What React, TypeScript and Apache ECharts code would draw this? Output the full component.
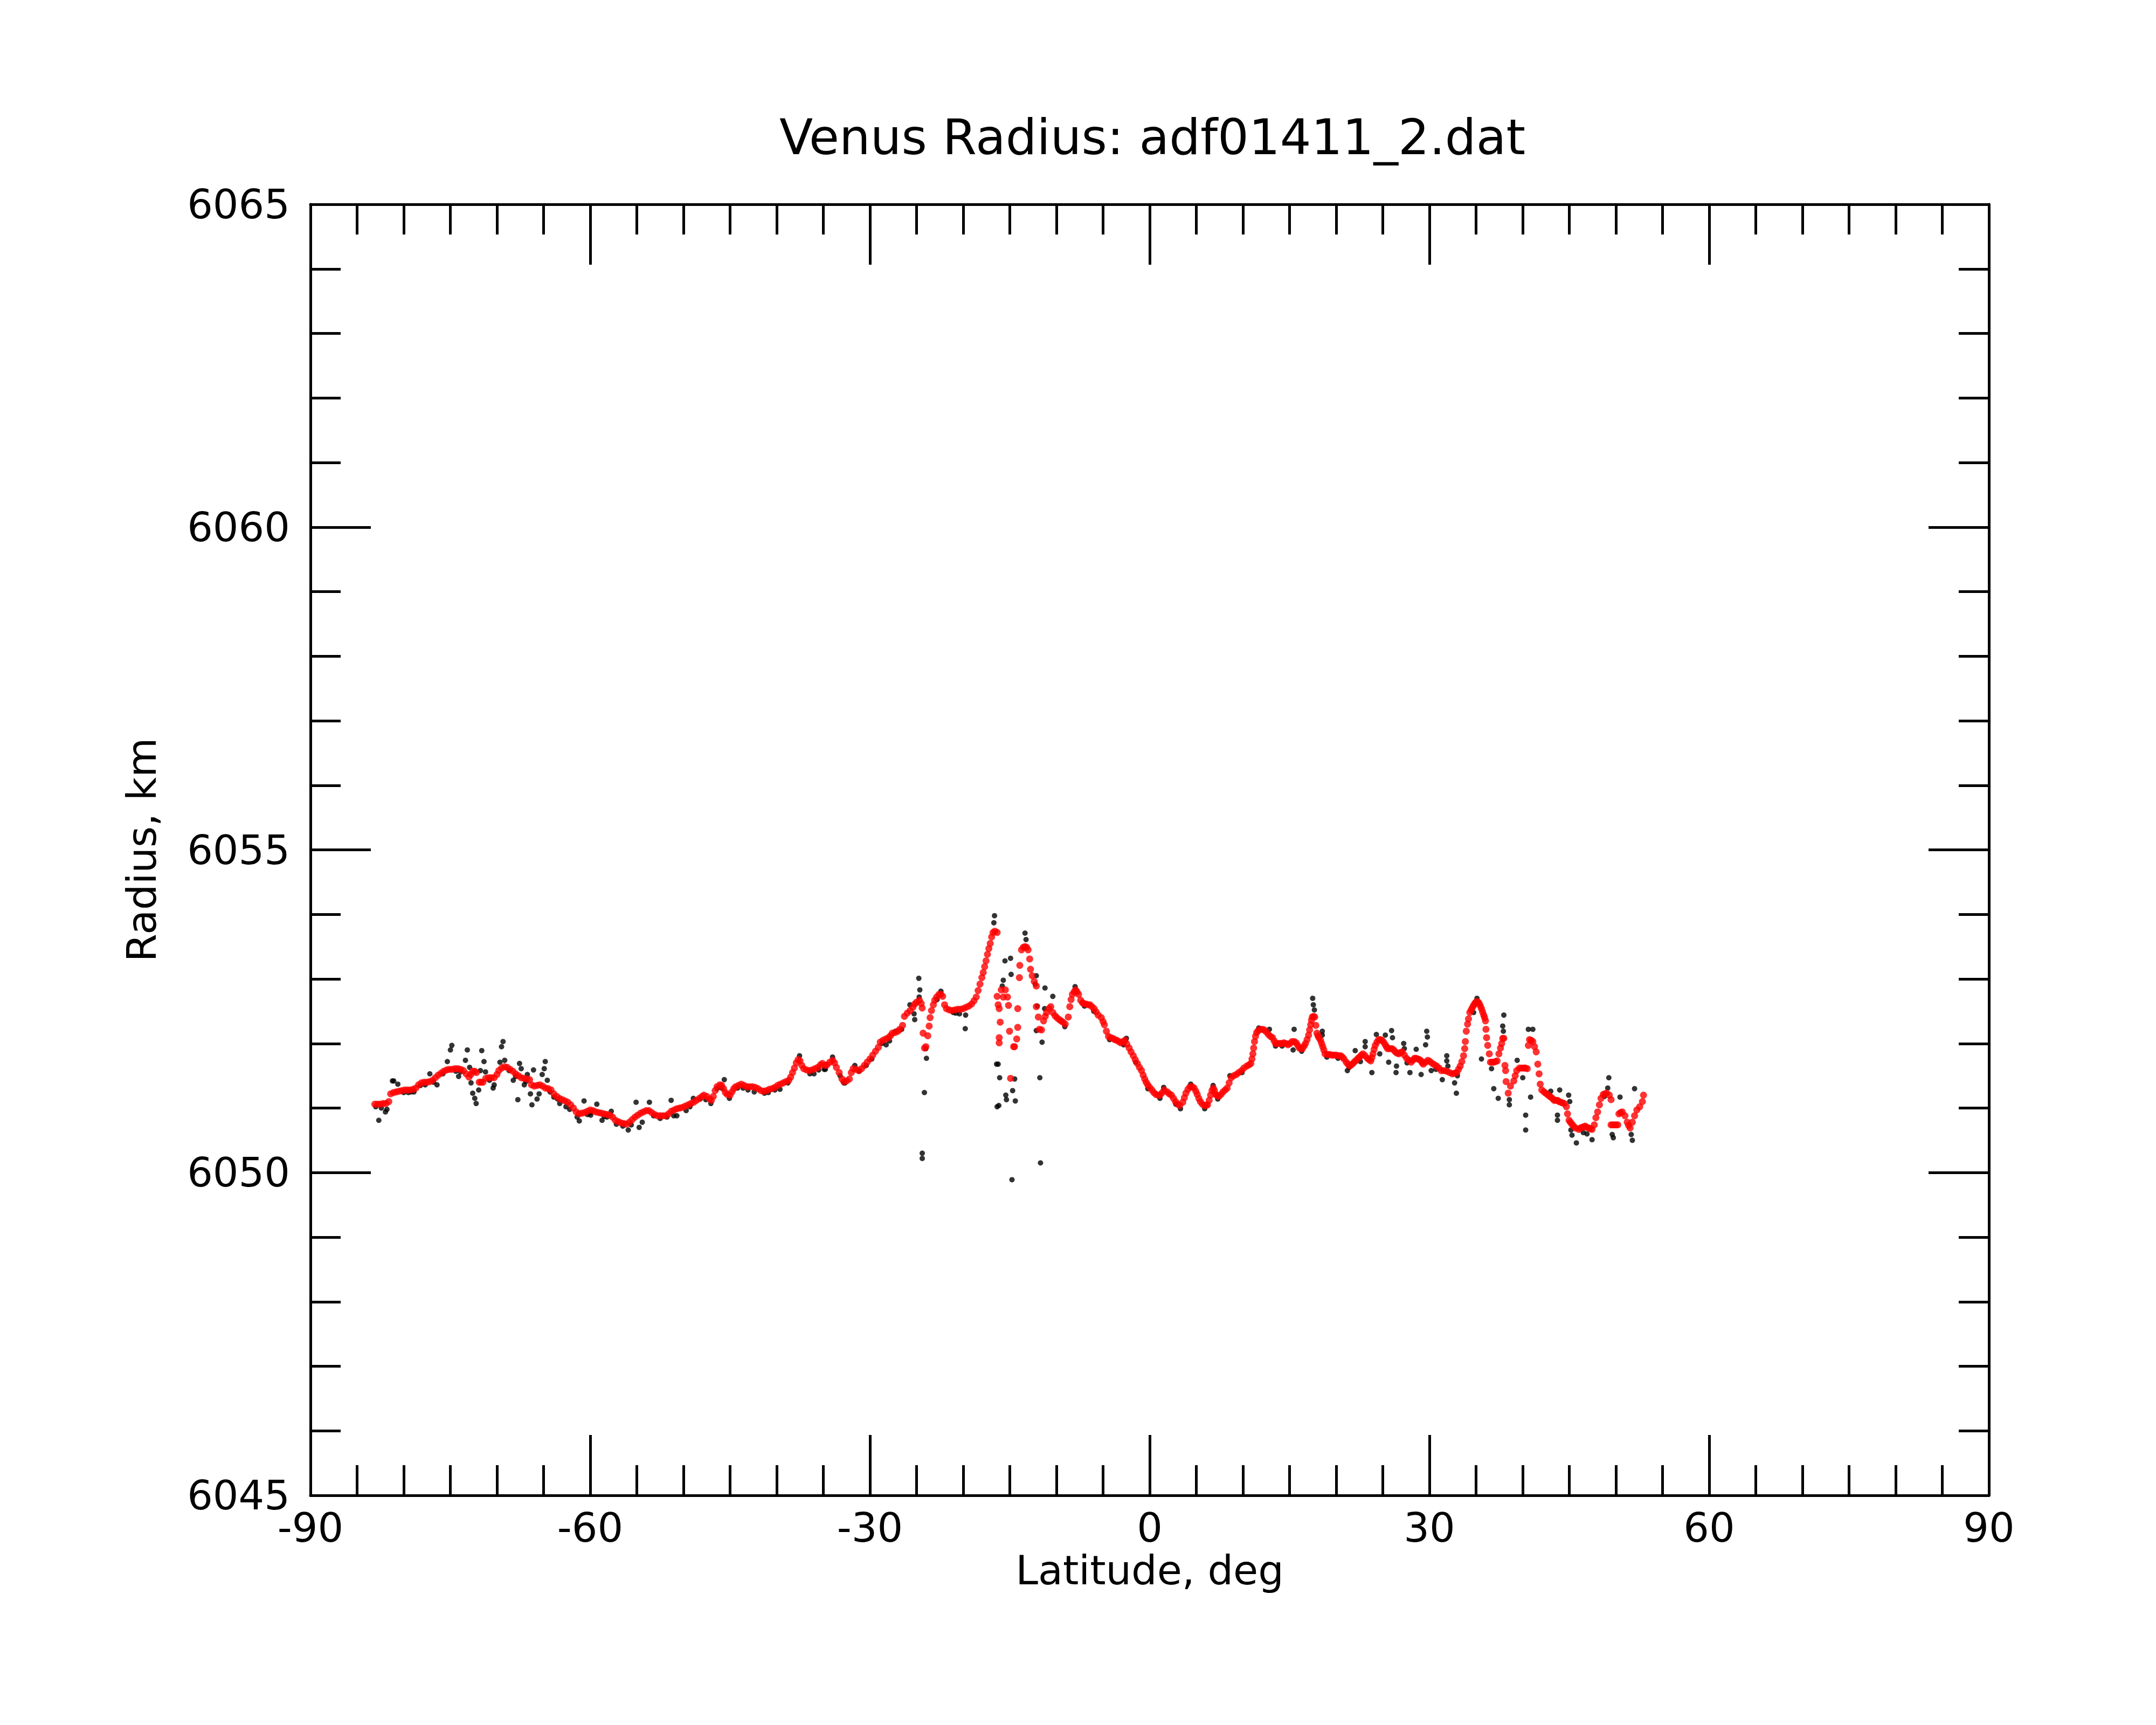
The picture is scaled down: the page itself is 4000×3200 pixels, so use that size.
import React, { useEffect, useRef } from "react";
import * as echarts from "echarts";

const TITLE = "Venus Radius: adf01411_2.dat";
const X_NAME = "Latitude, deg";
const Y_NAME = "Radius, km";
const X_MIN = -90;
const X_MAX = 90;
const X_STEP = 30;
const Y_MIN = 6045;
const Y_MAX = 6065;
const Y_STEP = 5;

// Smoothed radius (red), [latitude, radius]
const redSouth = [
  [-83.1, 6051.06], [-82.8, 6051.06], [-82.5, 6051.06], [-82.2, 6051.07], [-81.9, 6051.07], [-81.6, 6051.1],
  [-81.4, 6051.22], [-81.1, 6051.24], [-80.8, 6051.25], [-80.5, 6051.26], [-80.2, 6051.27], [-79.9, 6051.28],
  [-79.6, 6051.28], [-79.3, 6051.28], [-79.0, 6051.29], [-78.7, 6051.31], [-78.4, 6051.36], [-78.1, 6051.39],
  [-77.8, 6051.4], [-77.5, 6051.4], [-77.2, 6051.41], [-76.9, 6051.43], [-76.6, 6051.47], [-76.3, 6051.51],
  [-76.0, 6051.54], [-75.7, 6051.57], [-75.4, 6051.59], [-75.1, 6051.6], [-74.8, 6051.6], [-74.5, 6051.61],
  [-74.2, 6051.61], [-73.9, 6051.6], [-73.6, 6051.58], [-73.3, 6051.53], [-73.0, 6051.48], [-72.8, 6051.52],
  [-72.6, 6051.57], [-72.4, 6051.57], [-72.2, 6051.55], [-71.9, 6051.4], [-71.7, 6051.4], [-71.5, 6051.4],
  [-71.2, 6051.46], [-70.9, 6051.47], [-70.6, 6051.47], [-70.3, 6051.47], [-70.0, 6051.52], [-69.8, 6051.58],
  [-69.5, 6051.62], [-69.2, 6051.64], [-68.9, 6051.63], [-68.6, 6051.6], [-68.3, 6051.57], [-68.0, 6051.53],
  [-67.7, 6051.5], [-67.4, 6051.47], [-67.1, 6051.46], [-66.8, 6051.45], [-66.5, 6051.44], [-66.3, 6051.36],
  [-66.0, 6051.34], [-65.7, 6051.35], [-65.4, 6051.36], [-65.1, 6051.34], [-64.8, 6051.31], [-64.5, 6051.3],
  [-64.2, 6051.28], [-63.9, 6051.22], [-63.6, 6051.18], [-63.3, 6051.15], [-63.0, 6051.13], [-62.7, 6051.11],
  [-62.4, 6051.09], [-62.1, 6051.05], [-61.8, 6051.0], [-61.5, 6050.94], [-61.2, 6050.91], [-60.9, 6050.92],
  [-60.6, 6050.93], [-60.3, 6050.95], [-60.0, 6050.97], [-59.7, 6050.96], [-59.4, 6050.94], [-59.1, 6050.93],
  [-58.8, 6050.92], [-58.5, 6050.91], [-58.2, 6050.9], [-57.9, 6050.89], [-57.6, 6050.86], [-57.3, 6050.81],
  [-57.0, 6050.79], [-56.7, 6050.77], [-56.4, 6050.76], [-56.1, 6050.75], [-55.8, 6050.78], [-55.5, 6050.82],
  [-55.2, 6050.86], [-54.9, 6050.89], [-54.6, 6050.92], [-54.3, 6050.94], [-54.0, 6050.96], [-53.7, 6050.96],
  [-53.4, 6050.93], [-53.1, 6050.9], [-52.8, 6050.88], [-52.5, 6050.88], [-52.2, 6050.88], [-51.9, 6050.88],
  [-51.6, 6050.91], [-51.3, 6050.95], [-51.0, 6050.97],
];

const redMid = [
  [-50.7, 6050.99], [-50.4, 6051.0], [-50.1, 6051.01], [-49.8, 6051.03], [-49.5, 6051.05], [-49.2, 6051.07],
  [-48.9, 6051.09], [-48.6, 6051.12], [-48.3, 6051.15], [-48.0, 6051.18], [-47.8, 6051.2], [-47.5, 6051.18],
  [-47.2, 6051.14], [-47.0, 6051.12], [-46.8, 6051.18], [-46.6, 6051.27], [-46.4, 6051.33], [-46.1, 6051.36],
  [-45.9, 6051.35], [-45.7, 6051.3], [-45.5, 6051.24], [-45.3, 6051.21], [-45.0, 6051.2], [-44.8, 6051.25],
  [-44.6, 6051.3], [-44.4, 6051.33], [-44.1, 6051.35], [-43.8, 6051.37], [-43.5, 6051.35], [-43.2, 6051.33],
  [-42.9, 6051.33], [-42.6, 6051.33], [-42.3, 6051.32], [-42.0, 6051.3], [-41.7, 6051.27], [-41.4, 6051.26],
  [-41.1, 6051.27], [-40.8, 6051.29], [-40.5, 6051.3], [-40.2, 6051.32], [-39.9, 6051.35], [-39.6, 6051.37],
  [-39.3, 6051.39], [-39.0, 6051.41], [-38.7, 6051.43], [-38.5, 6051.48], [-38.3, 6051.55], [-38.1, 6051.62],
  [-37.9, 6051.7], [-37.7, 6051.75], [-37.5, 6051.73], [-37.3, 6051.66], [-37.1, 6051.61], [-36.8, 6051.59],
  [-36.5, 6051.58], [-36.2, 6051.59], [-35.9, 6051.61], [-35.6, 6051.63], [-35.3, 6051.67], [-35.1, 6051.69],
  [-34.8, 6051.66], [-34.6, 6051.67], [-34.3, 6051.71], [-34.0, 6051.74], [-33.8, 6051.7], [-33.6, 6051.63],
  [-33.3, 6051.55], [-33.0, 6051.45], [-32.8, 6051.41], [-32.5, 6051.42], [-32.2, 6051.45], [-32.0, 6051.55],
  [-31.8, 6051.61], [-31.5, 6051.6], [-31.2, 6051.58], [-30.9, 6051.61], [-30.6, 6051.66], [-30.3, 6051.71],
  [-30.0, 6051.76], [-29.7, 6051.82], [-29.4, 6051.88], [-29.1, 6051.94], [-28.9, 6052.02], [-28.6, 6052.05],
  [-28.3, 6052.07], [-28.0, 6052.09], [-27.8, 6052.12], [-27.6, 6052.16], [-27.3, 6052.17], [-27.0, 6052.19],
  [-26.8, 6052.22], [-26.5, 6052.28], [-26.3, 6052.42], [-26.0, 6052.47], [-25.7, 6052.51], [-25.4, 6052.56],
  [-25.2, 6052.61], [-25.0, 6052.64], [-24.7, 6052.67], [-24.5, 6052.62], [-24.4, 6052.55], [-24.3, 6052.16],
  [-24.15, 6051.93], [-24.0, 6051.95], [-23.8, 6052.12], [-23.65, 6052.27], [-23.55, 6052.4], [-23.4, 6052.51],
  [-23.2, 6052.6], [-23.05, 6052.67], [-22.85, 6052.72], [-22.6, 6052.76], [-22.4, 6052.76], [-22.2, 6052.73],
  [-22.0, 6052.6], [-21.8, 6052.54], [-21.5, 6052.52], [-21.2, 6052.51], [-20.9, 6052.52], [-20.6, 6052.53],
  [-20.3, 6052.53], [-20.0, 6052.54], [-19.7, 6052.56], [-19.4, 6052.58], [-19.1, 6052.61], [-18.85, 6052.66],
  [-18.6, 6052.72], [-18.4, 6052.82], [-18.2, 6052.92], [-18.0, 6053.02], [-17.85, 6053.1], [-17.7, 6053.19],
  [-17.55, 6053.28], [-17.4, 6053.38], [-17.25, 6053.47], [-17.1, 6053.55], [-16.95, 6053.65], [-16.8, 6053.72],
  [-16.6, 6053.74],
];

const redEquator = [
  [-16.36, 6053.72], [-16.36, 6052.73], [-16.25, 6052.6], [-16.14, 6052.54], [-16.03, 6052.33], [-16.14, 6052.09],
  [-16.14, 6052.01], [-15.92, 6052.83], [-15.48, 6052.83], [-15.7, 6052.72], [-15.25, 6052.72], [-15.14, 6052.59],
  [-15.03, 6052.19], [-14.92, 6051.46], [-14.59, 6051.95], [-14.5, 6051.95], [-14.26, 6052.07], [-14.15, 6052.25],
  [-14.15, 6052.54], [-13.97, 6053.02], [-13.93, 6053.21], [-13.75, 6053.45], [-13.55, 6053.49], [-13.37, 6053.5],
  [-13.2, 6053.49], [-13.04, 6053.45], [-12.87, 6053.31], [-12.78, 6053.15], [-12.6, 6053.05], [-12.38, 6052.96],
  [-12.16, 6052.89], [-12.16, 6052.57], [-11.94, 6052.41], [-11.83, 6052.22], [-11.6, 6052.21], [-11.38, 6052.35],
  [-11.2, 6052.42], [-11.05, 6052.48], [-10.8, 6052.54], [-10.61, 6052.57], [-10.39, 6052.48], [-10.15, 6052.43],
  [-9.95, 6052.4], [-9.7, 6052.37], [-9.5, 6052.35], [-9.3, 6052.33], [-9.06, 6052.3], [-8.73, 6052.41],
  [-8.57, 6052.57], [-8.43, 6052.68], [-8.29, 6052.76], [-8.1, 6052.8], [-7.95, 6052.83], [-7.8, 6052.8],
  [-7.62, 6052.76], [-7.4, 6052.67], [-7.2, 6052.63], [-7.07, 6052.62], [-6.8, 6052.61], [-6.6, 6052.6],
  [-6.41, 6052.6], [-6.2, 6052.57], [-5.96, 6052.54], [-5.75, 6052.49], [-5.52, 6052.44], [-5.19, 6052.4],
  [-5.0, 6052.34], [-4.86, 6052.29], [-4.64, 6052.19], [-4.42, 6052.11], [-4.2, 6052.09], [-3.97, 6052.08],
  [-3.75, 6052.06], [-3.53, 6052.05], [-3.3, 6052.03], [-3.09, 6052.01], [-2.85, 6052.03], [-2.65, 6052.05],
  [-2.45, 6051.99], [-2.2, 6051.93], [-2.0, 6051.87], [-1.76, 6051.81], [-1.55, 6051.75], [-1.32, 6051.69],
  [-1.1, 6051.63], [-0.88, 6051.58], [-0.7, 6051.51], [-0.54, 6051.45], [-0.38, 6051.4], [-0.21, 6051.36],
  [0.0, 6051.32], [0.23, 6051.28], [0.45, 6051.24], [0.67, 6051.21], [0.9, 6051.2], [1.11, 6051.2],
  [1.35, 6051.24], [1.56, 6051.28], [1.89, 6051.25], [2.1, 6051.22], [2.33, 6051.2], [2.55, 6051.15],
  [2.77, 6051.1], [3.0, 6051.06], [3.22, 6051.04], [3.55, 6051.09], [3.72, 6051.16], [3.88, 6051.23],
  [4.1, 6051.29], [4.32, 6051.33], [4.55, 6051.33], [4.76, 6051.31], [4.95, 6051.26], [5.1, 6051.21],
  [5.27, 6051.15], [5.43, 6051.1], [5.65, 6051.06], [5.87, 6051.04], [6.05, 6051.04], [6.2, 6051.05],
  [6.38, 6051.12], [6.53, 6051.2], [6.68, 6051.27], [6.82, 6051.31], [6.95, 6051.27], [7.09, 6051.21],
  [7.25, 6051.19], [7.42, 6051.18], [7.65, 6051.21], [7.86, 6051.25], [8.1, 6051.28], [8.31, 6051.31],
  [8.52, 6051.39], [8.75, 6051.47], [9.0, 6051.5], [9.3, 6051.52], [9.55, 6051.55], [9.85, 6051.58],
  [10.1, 6051.62], [10.41, 6051.65], [10.65, 6051.67], [10.85, 6051.69], [10.97, 6051.76], [11.07, 6051.84],
  [11.15, 6051.93], [11.24, 6052.03], [11.35, 6052.11], [11.47, 6052.17], [11.65, 6052.2], [11.84, 6052.22],
  [12.05, 6052.22], [12.29, 6052.21], [12.5, 6052.18], [12.73, 6052.14], [12.95, 6052.11], [13.17, 6052.09],
  [13.35, 6052.04], [13.5, 6052.0], [13.72, 6052.0], [13.95, 6052.0], [14.17, 6052.0], [14.39, 6052.01],
  [14.6, 6052.0], [14.83, 6051.98], [15.05, 6052.0], [15.27, 6052.03], [15.5, 6052.03], [15.71, 6052.01],
  [15.88, 6051.97], [16.05, 6051.93], [16.2, 6051.92], [16.38, 6051.92], [16.55, 6051.96], [16.71, 6052.0],
  [16.88, 6052.06], [17.04, 6052.13], [17.15, 6052.21], [17.26, 6052.29], [17.35, 6052.36], [17.44, 6052.41],
  [17.57, 6052.42], [17.7, 6052.41], [17.82, 6052.28], [17.93, 6052.16], [18.05, 6052.12], [18.15, 6052.09],
];

const redNorth = [
  [18.32, 6052.05], [18.44, 6052.0], [18.56, 6051.95], [18.68, 6051.9], [18.8, 6051.84], [19.05, 6051.83],
  [19.3, 6051.83], [19.52, 6051.82], [19.75, 6051.82], [20.0, 6051.82], [20.25, 6051.81], [20.48, 6051.81],
  [20.66, 6051.79], [20.84, 6051.76], [21.08, 6051.71], [21.26, 6051.68], [21.44, 6051.65], [21.62, 6051.67],
  [21.8, 6051.69], [21.98, 6051.72], [22.16, 6051.74], [22.34, 6051.77], [22.51, 6051.79], [22.7, 6051.82],
  [22.87, 6051.84], [23.1, 6051.81], [23.35, 6051.77], [23.53, 6051.75], [23.71, 6051.73], [23.83, 6051.78],
  [23.95, 6051.84], [24.07, 6051.91], [24.19, 6051.97], [24.37, 6052.02], [24.55, 6052.06], [24.73, 6052.06],
  [24.91, 6052.05], [25.09, 6052.02], [25.27, 6051.98], [25.39, 6051.95], [25.51, 6051.92], [25.75, 6051.92],
  [25.99, 6051.92], [26.17, 6051.9], [26.35, 6051.87], [26.53, 6051.85], [26.71, 6051.84], [26.89, 6051.86],
  [27.07, 6051.87], [27.31, 6051.82], [27.55, 6051.77], [27.79, 6051.74], [28.03, 6051.71], [28.21, 6051.74],
  [28.39, 6051.77], [28.57, 6051.77], [28.75, 6051.76], [28.93, 6051.75], [29.11, 6051.73], [29.23, 6051.7],
  [29.35, 6051.68], [29.59, 6051.71], [29.83, 6051.74], [30.07, 6051.72], [30.31, 6051.69], [30.55, 6051.67],
  [30.78, 6051.65], [31.02, 6051.62], [31.26, 6051.58], [31.56, 6051.58], [31.86, 6051.57], [32.16, 6051.55],
  [32.46, 6051.53], [32.7, 6051.54], [32.94, 6051.55], [33.12, 6051.6], [33.3, 6051.65], [33.48, 6051.72],
  [33.66, 6051.81], [33.78, 6051.92], [33.85, 6052.03], [33.95, 6052.19], [34.09, 6052.3], [34.19, 6052.38],
  [34.33, 6052.48], [34.47, 6052.52], [34.62, 6052.56], [34.74, 6052.59], [34.86, 6052.62], [34.98, 6052.64],
  [35.1, 6052.65], [35.22, 6052.64], [35.34, 6052.62], [35.46, 6052.58], [35.58, 6052.54], [35.7, 6052.49],
  [35.82, 6052.44], [35.92, 6052.4], [36.01, 6052.35], [36.06, 6052.22], [36.13, 6052.09], [36.25, 6051.97],
  [36.42, 6051.84], [36.54, 6051.71], [36.72, 6051.71], [36.9, 6051.71], [37.08, 6051.72], [37.26, 6051.73],
  [37.45, 6051.84], [37.62, 6051.93], [37.75, 6052.0], [37.86, 6052.08], [37.98, 6052.08], [38.1, 6051.66],
  [38.17, 6051.58], [38.22, 6051.41], [38.45, 6051.23], [38.69, 6051.34], [39.05, 6051.42], [39.2, 6051.5],
  [39.36, 6051.58], [39.65, 6051.62], [39.9, 6051.62], [40.13, 6051.62], [40.3, 6051.62], [40.49, 6051.61],
  [40.61, 6051.97], [40.73, 6052.06], [40.91, 6052.05], [41.09, 6052.03], [41.27, 6051.95], [41.45, 6051.87],
  [41.62, 6051.68], [41.76, 6051.53], [41.88, 6051.37], [42.05, 6051.28], [42.29, 6051.25], [42.47, 6051.23],
  [42.65, 6051.21], [42.83, 6051.19], [43.01, 6051.17], [43.19, 6051.15], [43.37, 6051.12], [43.55, 6051.12],
  [43.73, 6051.12], [43.91, 6051.1], [44.09, 6051.09], [44.27, 6051.08], [44.45, 6051.07], [44.69, 6051.02],
  [44.81, 6050.91], [44.97, 6050.81], [45.12, 6050.78], [45.28, 6050.75], [45.46, 6050.72], [45.65, 6050.69],
  [46.01, 6050.67], [46.18, 6050.69], [46.36, 6050.7], [46.54, 6050.71], [46.72, 6050.72], [46.9, 6050.7],
  [47.08, 6050.69], [47.26, 6050.68], [47.44, 6050.67], [47.68, 6050.74], [47.85, 6050.85], [48.04, 6050.94],
  [48.23, 6051.05], [48.4, 6051.15], [48.64, 6051.21], [48.82, 6051.22], [49.0, 6051.23], [49.29, 6051.2],
  [49.48, 6051.13], [49.48, 6050.74], [49.66, 6050.74], [49.84, 6050.74], [50.02, 6050.74], [50.2, 6050.74],
  [50.32, 6050.91], [50.5, 6050.93], [50.68, 6050.94], [50.97, 6050.88], [51.21, 6050.78], [51.36, 6050.73],
  [51.52, 6050.69], [51.76, 6050.78], [52.0, 6050.88], [52.24, 6050.97], [52.55, 6051.02], [52.84, 6051.1],
  [52.96, 6051.2],
];

// Raw radius samples (black), [latitude, radius]
const blackSouth = [
  [-83.0, 6051.02], [-82.67, 6050.81], [-82.4, 6051.0], [-81.96, 6050.94], [-81.8, 6050.98], [-81.21, 6051.42],
  [-81.07, 6051.42], [-80.63, 6051.37], [-80.0, 6051.24], [-79.5, 6051.24], [-78.9, 6051.25], [-78.2, 6051.35],
  [-77.2, 6051.53], [-76.43, 6051.36], [-75.8, 6051.53], [-75.32, 6051.72], [-74.99, 6051.9], [-74.84, 6051.97],
  [-74.11, 6051.49], [-73.9, 6051.56], [-73.38, 6051.74], [-73.18, 6051.9], [-72.93, 6051.63], [-72.78, 6051.39],
  [-72.6, 6051.23], [-72.38, 6051.15], [-72.23, 6051.07], [-71.96, 6051.28], [-71.78, 6051.58], [-71.63, 6051.89],
  [-71.39, 6051.72], [-71.23, 6051.56], [-70.41, 6051.31], [-70.3, 6051.36], [-69.68, 6051.71], [-69.51, 6051.95],
  [-69.35, 6052.03], [-69.17, 6051.74], [-68.7, 6051.58], [-68.25, 6051.43], [-67.76, 6051.13], [-67.58, 6051.69],
  [-67.4, 6051.61], [-67.07, 6051.36], [-66.74, 6051.52], [-66.41, 6051.22], [-66.25, 6051.05], [-66.08, 6051.59],
  [-65.7, 6051.14], [-65.48, 6051.22], [-65.15, 6051.52], [-64.93, 6051.61], [-64.82, 6051.72], [-64.6, 6051.43],
  [-63.9, 6051.17], [-63.27, 6051.07], [-62.6, 6051.02], [-62.2, 6050.98], [-61.4, 6050.86], [-61.17, 6050.8],
  [-60.66, 6051.11], [-60.3, 6050.9], [-59.95, 6050.89], [-59.29, 6051.06], [-58.73, 6050.81], [-58.2, 6050.86],
  [-57.74, 6050.95], [-57.19, 6050.75], [-56.5, 6050.72], [-55.92, 6050.66], [-55.6, 6050.74], [-55.08, 6051.09],
  [-54.75, 6050.7], [-54.42, 6050.78], [-53.65, 6051.09], [-53.2, 6050.88], [-52.5, 6050.84], [-51.77, 6050.86],
  [-51.32, 6051.12], [-79.2, 6051.25], [-77.7, 6051.36], [-76.8, 6051.4], [-74.4, 6051.57], [-70.8, 6051.43],
  [-68.0, 6051.49], [-66.9, 6051.41], [-64.3, 6051.25], [-63.5, 6051.14], [-60.0, 6050.93], [-58.5, 6050.87],
];

const blackMid = [
  [-51.04, 6050.88], [-50.71, 6050.88], [-49.71, 6050.96], [-48.94, 6051.15], [-48.2, 6051.14], [-47.06, 6051.07],
  [-46.4, 6051.3], [-45.62, 6051.44], [-45.07, 6051.15], [-44.2, 6051.31], [-43.08, 6051.28], [-42.41, 6051.25],
  [-41.31, 6051.23], [-40.2, 6051.28], [-39.65, 6051.29], [-38.8, 6051.39], [-37.55, 6051.81], [-36.44, 6051.53],
  [-36.0, 6051.53], [-34.9, 6051.6], [-34.78, 6051.6], [-34.01, 6051.79], [-32.79, 6051.39], [-32.68, 6051.39],
  [-31.62, 6051.66], [-31.13, 6051.57], [-29.8, 6051.76], [-28.7, 6052.0], [-28.26, 6051.98], [-27.26, 6052.19],
  [-26.6, 6052.22], [-25.71, 6052.6], [-25.27, 6052.46], [-25.2, 6052.37], [-24.76, 6053.01], [-24.65, 6052.83],
  [-24.72, 6052.72], [-24.01, 6051.92], [-23.94, 6051.77], [-24.16, 6051.24], [-24.39, 6050.3], [-24.39, 6050.22],
  [-22.39, 6052.81], [-21.07, 6052.48], [-20.4, 6052.46], [-19.74, 6052.44], [-19.78, 6052.23], [-16.64, 6053.98],
  [-16.71, 6053.87], [-16.42, 6051.68], [-16.36, 6051.02], [-49.3, 6051.02], [-47.6, 6051.13], [-45.9, 6051.31],
  [-43.6, 6051.31], [-40.9, 6051.24], [-35.5, 6051.59], [-33.2, 6051.5], [-30.4, 6051.66], [-27.9, 6052.04],
  [-22.8, 6052.68], [-20.8, 6052.47],
];

const blackEquator = [
  [-13.37, 6053.71], [-13.26, 6053.61], [-15.52, 6053.28], [-14.92, 6053.32], [-14.86, 6053.07], [-15.7, 6052.98],
  [-15.81, 6052.89], [-12.16, 6053.05], [-12.27, 6052.92], [-11.23, 6052.86], [-10.39, 6052.73], [-12.05, 6052.58],
  [-11.27, 6052.54], [-12.16, 6052.2], [-11.54, 6052.02], [-16.25, 6051.68], [-16.09, 6051.47], [-14.48, 6051.45],
  [-14.7, 6051.27], [-15.43, 6051.2], [-15.36, 6051.13], [-14.41, 6051.11], [-16.18, 6051.04], [-11.78, 6051.47],
  [-14.77, 6049.89], [-11.71, 6050.15], [-9.1, 6052.26], [-8.0, 6052.88], [-7.0, 6052.58], [-4.3, 6052.06],
  [-2.8, 6051.98], [-2.5, 6052.08], [-0.2, 6051.3], [1.1, 6051.15], [1.5, 6051.32], [3.3, 6050.99], [4.4, 6051.37],
  [5.9, 6050.99], [6.8, 6051.35], [8.6, 6051.5], [11.7, 6052.24], [12.84, 6052.22], [13.5, 6051.96],
  [15.49, 6052.22], [15.38, 6051.9], [16.3, 6051.88], [17.48, 6052.7], [17.66, 6052.52], [17.55, 6052.6],
  [-6.0, 6052.5], [-1.5, 6051.71], [2.8, 6051.06], [7.3, 6051.14], [9.9, 6051.55], [14.2, 6051.96],
];

const blackNorth = [
  [18.51, 6052.19], [18.51, 6052.13], [19.0, 6051.79], [21.2, 6051.58], [21.39, 6051.63], [22.04, 6051.89],
  [23.11, 6052.03], [23.11, 6051.95], [23.83, 6051.55], [24.31, 6052.14], [24.67, 6051.84], [25.27, 6052.13],
  [25.94, 6052.2], [26.04, 6052.09], [25.63, 6051.71], [26.47, 6051.65], [26.42, 6051.55], [27.24, 6052.0],
  [27.31, 6051.92], [27.91, 6051.55], [28.58, 6051.91], [29.71, 6052.19], [29.78, 6052.1], [29.59, 6051.98],
  [29.11, 6051.52], [30.19, 6051.58], [31.86, 6051.81], [31.86, 6051.73], [31.98, 6051.65], [32.7, 6051.39],
  [32.89, 6051.23], [31.38, 6051.44], [34.74, 6052.48], [35.1, 6052.7], [35.58, 6051.76], [36.66, 6051.61],
  [36.9, 6051.3], [37.38, 6051.15], [37.98, 6052.44], [37.86, 6052.27], [37.93, 6052.19], [38.57, 6051.13],
  [38.57, 6051.05], [39.41, 6051.74], [40.01, 6051.47], [40.32, 6050.89], [40.32, 6050.66], [40.85, 6051.17],
  [40.61, 6052.22], [41.09, 6052.22], [43.01, 6051.26], [43.97, 6051.28], [43.73, 6050.89], [43.73, 6050.81],
  [44.93, 6051.2], [45.05, 6051.1], [45.29, 6050.58], [45.76, 6050.46], [45.17, 6050.66], [47.44, 6050.51],
  [49.24, 6051.47], [49.12, 6051.31], [48.76, 6051.18], [50.44, 6051.17], [49.6, 6050.59], [49.72, 6050.54],
  [52.0, 6051.3], [51.76, 6050.5], [51.64, 6050.59], [20.2, 6051.77], [22.6, 6051.72], [27.6, 6051.7],
  [30.7, 6051.6], [33.0, 6051.5], [46.5, 6050.62], [46.9, 6050.6],
];

const FONT = "DejaVu Sans";

function makeXAxis(position: "bottom" | "top") {
  const bottom = position === "bottom";
  return {
    type: "value",
    position,
    min: X_MIN,
    max: X_MAX,
    interval: X_STEP,
    name: bottom ? X_NAME : "",
    nameLocation: "middle",
    nameGap: 97,
    nameTextStyle: { fontSize: 75, fontFamily: FONT, color: "#000" },
    axisLine: { show: true, onZero: false, lineStyle: { color: "#000", width: 5 } },
    axisTick: { show: true, inside: true, length: 112, lineStyle: { color: "#000", width: 5 } },
    minorTick: { show: true, splitNumber: 6, length: 56, lineStyle: { color: "#000", width: 5 } },
    axisLabel: {
      show: bottom,
      margin: 22,
      fontSize: 75,
      fontFamily: FONT,
      color: "#000",
      formatter: (v: number) => String(v),
    },
    splitLine: { show: false },
    minorSplitLine: { show: false },
  };
}

function makeYAxis(position: "left" | "right") {
  const left = position === "left";
  return {
    type: "value",
    position,
    min: Y_MIN,
    max: Y_MAX,
    interval: Y_STEP,
    name: left ? Y_NAME : "",
    nameLocation: "middle",
    nameGap: 276,
    nameTextStyle: { fontSize: 75, fontFamily: FONT, color: "#000" },
    axisLine: { show: true, onZero: false, lineStyle: { color: "#000", width: 5 } },
    axisTick: { show: true, inside: true, length: 112, lineStyle: { color: "#000", width: 5 } },
    minorTick: { show: true, splitNumber: 5, length: 56, lineStyle: { color: "#000", width: 5 } },
    axisLabel: {
      show: left,
      margin: 38,
      fontSize: 75,
      fontFamily: FONT,
      color: "#000",
      formatter: (v: number) => String(v),
    },
    splitLine: { show: false },
    minorSplitLine: { show: false },
  };
}

export default function App() {
  const ref = useRef<HTMLDivElement>(null);
  useEffect(() => {
    document.body.style.margin = "0";
    if (!ref.current) return;
    const chart = echarts.init(ref.current, null, { renderer: "svg" });
    chart.setOption({
      animation: false,
      backgroundColor: "#ffffff",
      title: {
        text: TITLE,
        left: 2133,
        top: 204,
        textAlign: "center",
        textStyle: { fontSize: 91, fontWeight: "normal", fontFamily: FONT, color: "#000" },
      },
      grid: { left: 576, right: 310, top: 379, bottom: 426, containLabel: false },
      xAxis: [makeXAxis("bottom"), makeXAxis("top")],
      yAxis: [makeYAxis("left"), makeYAxis("right")],
      series: [
        {
          name: "raw",
          type: "scatter",
          xAxisIndex: 0,
          yAxisIndex: 0,
          symbol: "circle",
          symbolSize: 10,
          itemStyle: { color: "#000000" },
          data: [...blackSouth, ...blackMid, ...blackEquator, ...blackNorth],
          silent: true,
          z: 2,
        },
        {
          name: "smoothed",
          type: "scatter",
          xAxisIndex: 0,
          yAxisIndex: 0,
          symbol: "circle",
          symbolSize: 13,
          itemStyle: { color: "#ff0000" },
          data: [...redSouth, ...redMid, ...redEquator, ...redNorth],
          silent: true,
          z: 3,
        },
      ],
    });
    return () => chart.dispose();
  }, []);
  return <div ref={ref} style={{ width: 4000, height: 3200 }} />;
}
